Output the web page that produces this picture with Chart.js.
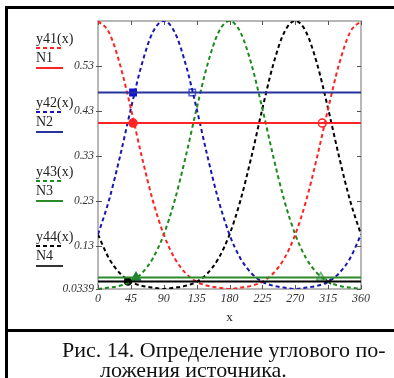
<!DOCTYPE html>
<html>
<head>
<meta charset="utf-8">
<script src="https://cdn.jsdelivr.net/npm/chart.js@4"></script>
<style>
  html, body { margin: 0; padding: 0; background: #fff; }
  #wrap { position: relative; width: 394px; height: 378px; overflow: hidden; background: #fff; }
  #plot { position: absolute; left: 0; top: 0; width: 394px; height: 330px; }
  .rule { position: absolute; background: #000; }
  .cap { position: absolute; font-family: "Liberation Serif", "Times New Roman", serif; font-size: 22px; line-height: 22px; color: #111; white-space: nowrap; }
</style>
</head>
<body>
<div id="wrap">
  <div id="plot"><canvas id="chart" width="394" height="330"></canvas></div>
  <div class="rule" style="left:5px;top:6px;width:389px;height:3px"></div>
  <div class="rule" style="left:5px;top:6px;width:3px;height:372px"></div>
  <div class="rule" style="left:5px;top:329px;width:389px;height:3px"></div>
  <div class="cap" style="left:62px;top:339px">Рис. 14. Определение углового по-</div>
  <div class="cap" style="left:100px;top:359px">ложения источника.</div>
</div>
<script>
// angle, degrees
const xDeg = [0, 15, 30, 45, 60, 75, 90, 105, 120, 135, 150, 165, 180,
              195, 210, 225, 240, 255, 270, 285, 300, 315, 330, 345, 360];

const y41 = [0.630, 0.605, 0.534, 0.435, 0.328, 0.231, 0.155, 0.102, 0.069, 0.050, 0.041, 0.037, 0.034,
             0.037, 0.041, 0.050, 0.069, 0.102, 0.155, 0.231, 0.328, 0.435, 0.534, 0.605, 0.630];
const y42 = [0.155, 0.231, 0.328, 0.435, 0.534, 0.605, 0.630, 0.605, 0.534, 0.435, 0.328, 0.231, 0.155,
             0.102, 0.069, 0.050, 0.041, 0.037, 0.034, 0.037, 0.041, 0.050, 0.069, 0.102, 0.155];
const y43 = [0.034, 0.037, 0.041, 0.050, 0.069, 0.102, 0.155, 0.231, 0.328, 0.435, 0.534, 0.605, 0.630,
             0.605, 0.534, 0.435, 0.328, 0.231, 0.155, 0.102, 0.069, 0.050, 0.041, 0.037, 0.034];
const y44 = [0.155, 0.102, 0.069, 0.050, 0.041, 0.037, 0.034, 0.037, 0.041, 0.050, 0.069, 0.102, 0.155,
             0.231, 0.328, 0.435, 0.534, 0.605, 0.630, 0.605, 0.534, 0.435, 0.328, 0.231, 0.155];

const N1 = 0.403;
const N2 = 0.471;
const N3 = 0.0596;
const N4 = 0.0506;

// marker angles (filled, hollow)
const mark1 = [48, 307];
const mark2 = [48, 129];
const mark3 = [52, 305];
const mark4 = [41, 315];

const xTicks = [0, 45, 90, 135, 180, 225, 270, 315, 360];
const yTicks = [0.0339, 0.13, 0.23, 0.33, 0.43, 0.53];
const yTickLabels = ['0.0339', '0.13', '0.23', '0.33', '0.43', '0.53'];

const legendNames = ['y41(x)', 'y42(x)', 'y43(x)', 'y44(x)'];
const legendN = ['N1', 'N2', 'N3', 'N4'];

const RED = '#ff2424';
const BLUE = '#1818b0';
const BLUE_LINE = '#27339c';
const GREEN = '#1c8a1c';
const GREEN_LINE = '#2a8a2a';
const BLACK = '#000';
const SERIF = '"Liberation Serif", "Times New Roman", serif';

const pts = ys => xDeg.map((x, i) => ({ x: x, y: ys[i] }));
const hline = v => [{ x: 0, y: v }, { x: 360, y: v }];

function curve(ys, color) {
    return {
        data: pts(ys), borderColor: color, borderWidth: 2, borderDash: [4, 3],
        pointRadius: 0, cubicInterpolationMode: 'monotone', fill: false,
    };
}
function level(v, color) {
    return { data: hline(v), borderColor: color, borderWidth: 2, pointRadius: 0, fill: false };
}
function marker(x, y, style, color, fill, r) {
    return {
        type: 'scatter', data: [{ x: x, y: y }], showLine: false,
        pointStyle: style, pointRadius: r, borderColor: color, borderWidth: 1.5,
        backgroundColor: fill,
    };
}

// frame and inward ticks
const framePlugin = {
    id: 'frame',
    beforeDatasetsDraw(chart) {
        const { ctx, chartArea: a, scales } = chart;
        ctx.save();
        ctx.strokeStyle = '#a0a0a0';
        ctx.lineWidth = 1.5;
        ctx.strokeRect(a.left, a.top, a.right - a.left, a.bottom - a.top);
        ctx.strokeStyle = '#555';
        ctx.lineWidth = 1;
        ctx.beginPath();
        xTicks.forEach(v => {
            const px = Math.round(scales.x.getPixelForValue(v)) + 0.5;
            ctx.moveTo(px, a.top); ctx.lineTo(px, a.top + 4);
            ctx.moveTo(px, a.bottom); ctx.lineTo(px, a.bottom - 4);
        });
        yTicks.forEach(v => {
            const py = Math.round(scales.y.getPixelForValue(v)) + 0.5;
            ctx.moveTo(a.left - 2, py); ctx.lineTo(a.left + 4, py);
            ctx.moveTo(a.right, py); ctx.lineTo(a.right - 4, py);
        });
        ctx.stroke();
        ctx.restore();
    }
};

// the left hand legend: name over dashed sample, N over solid sample
const legendTops = [39, 103, 172, 237];
const legendColors = [[RED, RED], [BLUE, BLUE_LINE], [GREEN, GREEN_LINE], [BLACK, '#333']];
const legendPlugin = {
    id: 'sideLegend',
    afterDraw(chart) {
        const ctx = chart.ctx;
        ctx.save();
        ctx.font = '14px ' + SERIF;
        ctx.textBaseline = 'middle';
        ctx.fillStyle = '#222';
        legendTops.forEach((t, i) => {
            ctx.fillText(legendNames[i], 36, t);
            ctx.fillText(legendN[i], 36, t + 19);
            ctx.lineWidth = 2;
            ctx.strokeStyle = legendColors[i][0];
            ctx.setLineDash([4, 3]);
            ctx.beginPath(); ctx.moveTo(36, t + 9); ctx.lineTo(64, t + 9); ctx.stroke();
            ctx.setLineDash([]);
            ctx.strokeStyle = legendColors[i][1];
            ctx.beginPath(); ctx.moveTo(36, t + 29); ctx.lineTo(63, t + 29); ctx.stroke();
        });
        ctx.restore();
    }
};

new Chart(document.getElementById('chart'), {
    type: 'line',
    data: {
        datasets: [
            level(N1, RED),
            level(N2, BLUE_LINE),
            level(N3, GREEN_LINE),
            level(N4, BLACK),
            curve(y41, RED),
            curve(y42, BLUE),
            curve(y43, GREEN),
            curve(y44, BLACK),
            marker(mark1[0], N1, 'circle', RED, RED, 4),
            marker(mark1[1], N1, 'circle', RED, 'rgba(255,255,255,0)', 4),
            marker(mark2[0], N2, 'rect', '#1010e0', '#1010e0', 4.5),
            marker(mark2[1], N2, 'rect', '#5060e0', 'rgba(255,255,255,0)', 4.5),
            marker(mark3[0], N3, 'triangle', '#1f7f3f', '#1f7f3f', 5),
            marker(mark3[1], N3, 'triangle', '#70b080', 'rgba(150,200,160,0.5)', 5),
            marker(mark4[0], N4, 'circle', BLACK, BLACK, 3.5),
            marker(mark4[1], N4, 'crossRot', '#333', '#333', 4),
        ],
    },
    options: {
        responsive: false,
        animation: false,
        devicePixelRatio: 1,
        layout: { padding: { top: 21, right: 33, left: 0, bottom: 0 } },
        plugins: {
            legend: { display: false },
            tooltip: { enabled: false },
        },
        scales: {
            x: {
                type: 'linear',
                min: 0,
                max: 360,
                afterBuildTicks: s => { s.ticks = xTicks.map(v => ({ value: v })); },
                afterFit: s => { s.height = 41; },
                grid: { display: false, drawTicks: false },
                border: { display: false },
                ticks: {
                    padding: 3, autoSkip: false, maxRotation: 0, color: '#333',
                    font: { family: SERIF, style: 'italic', size: 12 },
                },
                title: {
                    display: true, text: 'x', color: '#222',
                    font: { family: SERIF, size: 13 },
                    padding: { top: 0, bottom: 5 },
                },
            },
            y: {
                min: 0.0339,
                max: 0.63,
                afterBuildTicks: s => { s.ticks = yTicks.map(v => ({ value: v })); },
                afterFit: s => { s.width = 98; },
                grid: { display: false, drawTicks: false },
                border: { display: false },
                ticks: {
                    padding: 4, color: '#333',
                    font: { family: SERIF, style: 'italic', size: 11.5 },
                    callback: (v, i) => yTickLabels[i],
                },
            },
        },
    },
    plugins: [framePlugin, legendPlugin],
});
</script>
</body>
</html>
